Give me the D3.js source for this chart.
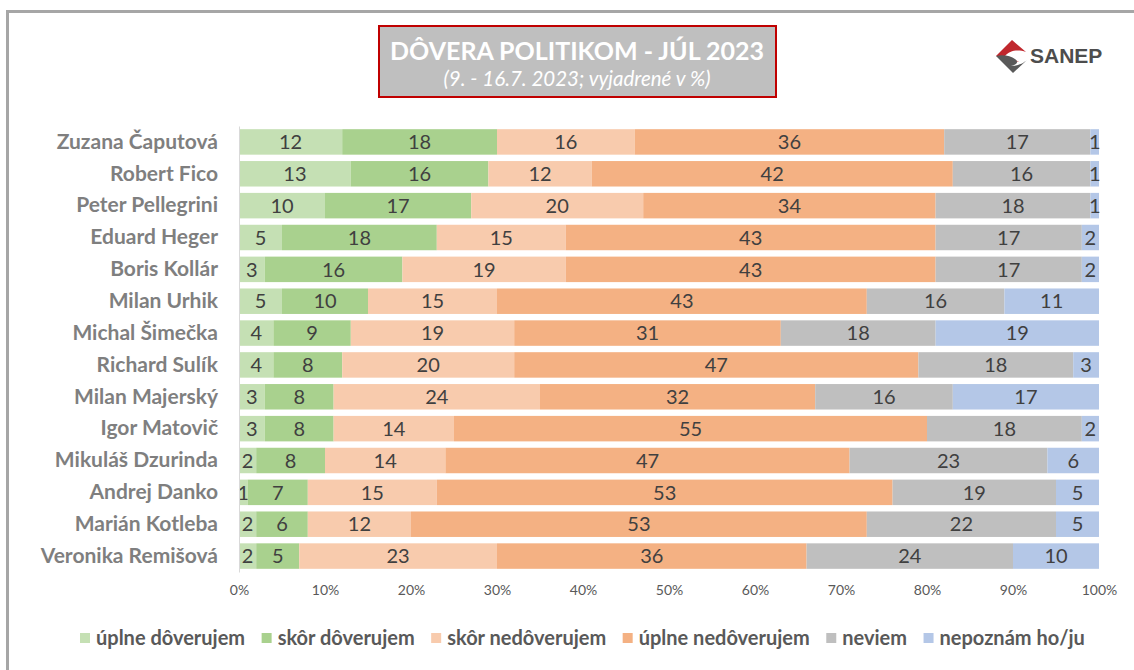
<!DOCTYPE html>
<html>
<head>
<meta charset="utf-8">
<script src="https://cdn.jsdelivr.net/npm/d3@7"></script>
<style>
  body { margin: 0; background: #fff; }
  svg { display: block; font-family: Lato, "Open Sans", sans-serif; }
</style>
</head>
<body>
<svg id="chart" width="1134" height="670"></svg>
<script>
var politicians = ["Zuzana Čaputová", "Robert Fico", "Peter Pellegrini", "Eduard Heger", "Boris Kollár",
    "Milan Urhik", "Michal Šimečka", "Richard Sulík", "Milan Majerský", "Igor Matovič",
    "Mikuláš Dzurinda", "Andrej Danko", "Marián Kotleba", "Veronika Remišová"];

var seriesNames = ["úplne dôverujem", "skôr dôverujem", "skôr nedôverujem", "úplne nedôverujem", "neviem", "nepoznám ho/ju"];

var uplneDoverujem   = [12, 13, 10, 5, 3, 5, 4, 4, 3, 3, 2, 1, 2, 2];
var skorDoverujem    = [18, 16, 17, 18, 16, 10, 9, 8, 8, 8, 8, 7, 6, 5];
var skorNedoverujem  = [16, 12, 20, 15, 19, 15, 19, 20, 24, 14, 14, 15, 12, 23];
var uplneNedoverujem = [36, 42, 34, 43, 43, 43, 31, 47, 32, 55, 47, 53, 53, 36];
var neviem           = [17, 16, 18, 17, 17, 16, 18, 18, 16, 18, 23, 19, 22, 24];
var nepoznam         = [1, 1, 1, 2, 2, 11, 19, 3, 17, 2, 6, 5, 5, 10];

var tickLabels = ["0%", "10%", "20%", "30%", "40%", "50%", "60%", "70%", "80%", "90%", "100%"];

var colors = ["#C5E0B4", "#A9D18E", "#F8CBAD", "#F4B183", "#BFBFBF", "#B4C7E7"];

(function trust() {
    var svg = d3.select("#chart");
    var keys = ["u1", "s1", "s2", "u2", "n1", "n2"];

    var rows = politicians.map(function(name, i) {
        return {name: name, u1: uplneDoverujem[i], s1: skorDoverujem[i], s2: skorNedoverujem[i],
                u2: uplneNedoverujem[i], n1: neviem[i], n2: nepoznam[i]};
    });

    // outer frame
    svg.append("rect")
        .attr("x", 7.5).attr("y", 11.5)
        .attr("width", 1140).attr("height", 700)
        .attr("fill", "#fff")
        .attr("stroke", "#A6A6A6")
        .attr("stroke-width", 3);

    // title box
    svg.append("rect")
        .attr("x", 379).attr("y", 26)
        .attr("width", 397).attr("height", 71)
        .attr("fill", "#BFBFBF")
        .attr("stroke", "#C00000")
        .attr("stroke-width", 2);
    svg.append("text")
        .attr("x", 577).attr("y", 60)
        .attr("text-anchor", "middle")
        .attr("fill", "#fff")
        .attr("font-weight", "bold")
        .attr("font-size", 25)
        .text("DÔVERA POLITIKOM - JÚL 2023");
    svg.append("text")
        .attr("x", 577).attr("y", 86)
        .attr("text-anchor", "middle")
        .attr("fill", "#fff")
        .attr("font-style", "italic")
        .attr("font-size", 20.5)
        .text("(9. - 16.7. 2023; vyjadrené v %)");

    // logo
    var logo = svg.append("g").attr("transform", "translate(1013,56)");
    logo.append("path")
        .attr("d", "M-17,0 L-1,-16 L13,-4 C4,-7 -4,-5 -8,0 C-4,3 4,4 6,6 Z")
        .attr("fill", "#C0272D");
    logo.append("path")
        .attr("d", "M-17,0 C-10,-2 -2,0 2,3 C6,6 4,9 -2,10 C6,10 12,6 14,4 L0,17 Z")
        .attr("fill", "#595959");
    svg.append("text")
        .attr("x", 1030).attr("y", 63)
        .attr("fill", "#4D4D4D")
        .attr("font-weight", "bold")
        .attr("font-size", 21)
        .attr("font-family", "'Liberation Sans', Arial, sans-serif")
        .text("SANEP");

    var margin = {left: 239, top: 126},
        width = 860,
        height = 446;

    var g = svg.append("g").attr("transform", "translate(" + margin.left + "," + margin.top + ")");

    var x = d3.scaleLinear().domain([0, 100]).range([0, width]);
    var y = d3.scaleBand().domain(politicians).range([0, height]).paddingInner(0.2).paddingOuter(0.1);

    var stack = d3.stack().keys(keys);
    var series = stack(rows);

    var layer = g.selectAll(".layer")
        .data(series)
        .enter().append("g")
        .attr("fill", function(d, i) { return colors[i]; });

    layer.selectAll("rect")
        .data(function(d) { return d; })
        .enter().append("rect")
        .attr("x", function(d) { return x(d[0]); })
        .attr("y", function(d) { return y(d.data.name); })
        .attr("width", function(d) { return x(d[1]) - x(d[0]); })
        .attr("height", y.bandwidth());

    layer.selectAll("text")
        .data(function(d) { return d; })
        .enter().append("text")
        .attr("x", function(d) { return (x(d[0]) + x(d[1])) / 2; })
        .attr("y", function(d) { return y(d.data.name) + y.bandwidth() / 2; })
        .attr("dy", "0.36em")
        .attr("text-anchor", "middle")
        .attr("fill", "#404040")
        .attr("font-size", 20)
        .text(function(d) { return d[1] - d[0]; });

    // y axis
    var yAxis = g.append("g")
        .call(d3.axisLeft(y).tickSize(0).tickPadding(21));
    yAxis.select(".domain").attr("stroke", "#D9D9D9");
    yAxis.selectAll("text")
        .attr("fill", "#7F7F7F")
        .attr("font-weight", "bold")
        .attr("font-size", 21)
        .attr("font-family", "Lato, sans-serif");

    // x axis
    var xAxis = g.append("g")
        .attr("transform", "translate(0," + height + ")")
        .call(d3.axisBottom(x).tickValues(d3.range(0, 101, 10)).tickSize(0).tickPadding(13)
            .tickFormat(function(d, i) { return tickLabels[i]; }));
    xAxis.select(".domain").remove();
    xAxis.selectAll("text")
        .attr("fill", "#595959")
        .attr("font-size", 14)
        .attr("font-family", "Lato, sans-serif");

    // legend
    var legend = svg.append("g").attr("transform", "translate(80,638)");
    var lx = 0;
    seriesNames.forEach(function(name, i) {
        var item = legend.append("g").attr("transform", "translate(" + lx + ",0)");
        item.append("rect")
            .attr("x", 0).attr("y", -5)
            .attr("width", 10).attr("height", 10)
            .attr("fill", colors[i]);
        var t = item.append("text")
            .attr("x", 16).attr("dy", "0.35em")
            .attr("fill", "#595959")
            .attr("font-weight", "bold")
            .attr("font-size", 20)
            .text(name);
        lx += 16 + t.node().getComputedTextLength() + 16.5;
    });
})();
</script>
</body>
</html>
